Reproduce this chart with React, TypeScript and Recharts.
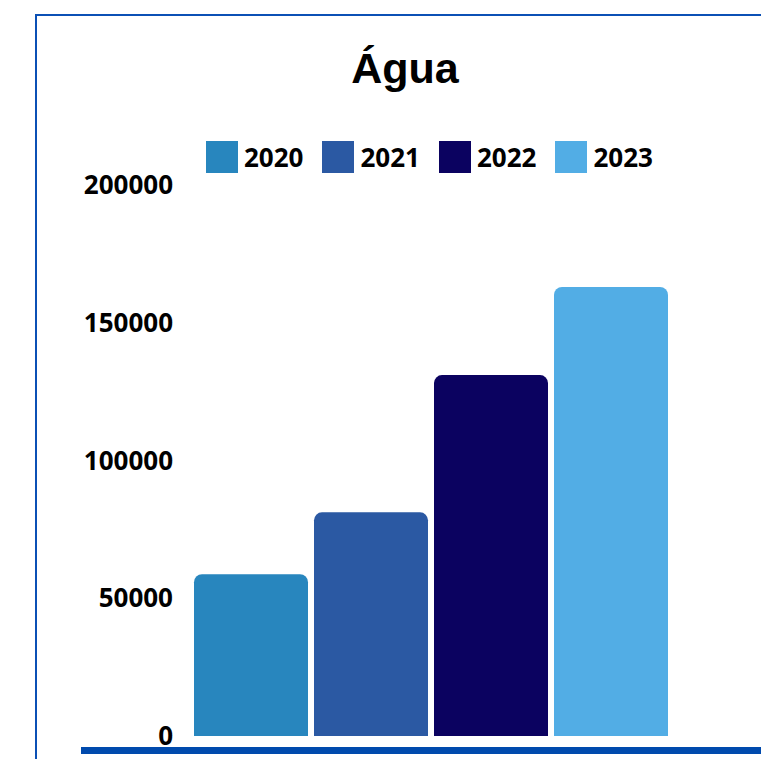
import React from "react";
import { BarChart, Bar, XAxis, YAxis } from "recharts";

const title = "Água";
const category = ["Água"];
const seriesYears = ["2020", "2021", "2022", "2023"];
const seriesValues = [58700, 81200, 131000, 163000];
const seriesColors = ["#2886be", "#2b59a3", "#0b0260", "#52ade5"];
const yTicks = [0, 50000, 100000, 150000, 200000];

const data = category.map((name) => {
  const row: Record<string, string | number> = { name };
  seriesYears.forEach((y, i) => {
    row[y] = seriesValues[i];
  });
  return row;
});

const tickFont = { fontFamily: "'Open Sans', sans-serif", fontWeight: 700, fontSize: 26, fill: "#000" };

const App: React.FC = () => {
  return (
    <div style={{ position: "absolute", left: 0, top: 0, width: 761, height: 759, background: "#fff", overflow: "hidden" }}>
      {/* frame */}
      <div
        style={{
          position: "absolute",
          left: 35,
          top: 14,
          width: 761 - 35,
          height: 759 - 14,
          borderTop: "2px solid #0b50b5",
          borderLeft: "2px solid #0b50b5",
        }}
      />
      <div
        style={{
          position: "absolute",
          left: 295,
          top: 43,
          width: 220,
          textAlign: "center",
          fontFamily: "'Liberation Sans', Arial, sans-serif",
          fontWeight: 700,
          fontSize: 43,
          lineHeight: "50px",
        }}
      >
        {title}
      </div>
      {/* legend */}
      <div
        style={{
          position: "absolute",
          left: 206,
          top: 141,
          display: "flex",
          alignItems: "center",
          fontFamily: "'Open Sans', sans-serif",
          fontWeight: 700,
          fontSize: 26,
        }}
      >
        {seriesYears.map((y, i) => (
          <div key={y} style={{ display: "flex", alignItems: "center", marginRight: 19 }}>
            <div style={{ width: 32, height: 32, background: seriesColors[i], marginRight: 6 }} />
            <span style={{ lineHeight: "32px" }}>{y}</span>
          </div>
        ))}
      </div>
      <div style={{ position: "absolute", left: 0, top: 0 }}>
        <BarChart
          width={761}
          height={759}
          data={data}
          margin={{ top: 185, right: 80, bottom: 23, left: 80 }}
          barSize={114}
          barGap={6}
        >
          <XAxis dataKey="name" hide />
          <YAxis
            domain={[0, 200000]}
            ticks={yTicks}
            width={100}
            axisLine={false}
            tickLine={false}
            tickSize={0}
            tickMargin={7}
            tick={tickFont}
            interval={0}
          />
          {seriesYears.map((y, i) => (
            <Bar key={y} dataKey={y} fill={seriesColors[i]} radius={[8, 8, 0, 0]} isAnimationActive={false} />
          ))}
        </BarChart>
      </div>
      {/* bottom rule */}
      <div style={{ position: "absolute", left: 81, top: 747, width: 761 - 81, height: 7, background: "#004aad" }} />
    </div>
  );
};

export default App;
